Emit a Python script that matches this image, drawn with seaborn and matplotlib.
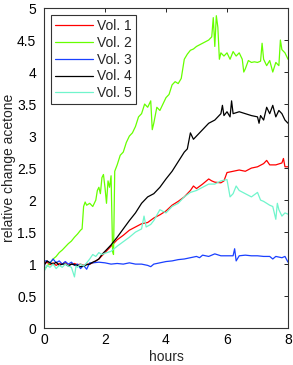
import numpy as np
import pandas as pd
import seaborn as sns
import matplotlib
matplotlib.use("Agg")
import matplotlib.pyplot as plt

# values (hours vs relative change)
vol1_x = [0, 0.1, 0.2, 0.3, 0.4, 0.5, 0.6, 0.7, 0.8, 0.9, 1.0, 1.1, 1.2, 1.3, 1.4, 1.5,
          1.6, 1.8, 2.0, 2.2, 2.4, 2.6, 2.8, 3.0, 3.2, 3.4, 3.6, 3.8, 4.0, 4.2, 4.4,
          4.6, 4.8, 4.9, 5.0, 5.2, 5.4, 5.5, 5.6, 5.8, 5.9, 6.0, 6.2, 6.4, 6.6, 6.8,
          7.0, 7.2, 7.3, 7.4, 7.6, 7.8, 7.85, 7.9, 8.0]
vol1_y = [1.0, 1.03, 0.99, 1.02, 0.98, 1.01, 1.0, 1.03, 0.98, 1.0, 1.01, 0.99, 1.0, 0.98, 1.0, 1.0,
          1.02, 1.08, 1.18, 1.28, 1.38, 1.45, 1.53, 1.58, 1.63, 1.65, 1.72, 1.77, 1.83, 1.92, 1.98,
          2.05, 2.15, 2.22, 2.18, 2.25, 2.33, 2.3, 2.28, 2.27, 2.3, 2.43, 2.45, 2.47, 2.45, 2.5,
          2.52, 2.57, 2.62, 2.55, 2.55, 2.58, 2.65, 2.52, 2.52]

vol2_x = [0, 0.1, 0.2, 0.3, 0.4, 0.5, 0.6, 0.7, 0.8, 0.9, 1.0, 1.1, 1.2, 1.25, 1.3, 1.35,
          1.4, 1.5, 1.6, 1.7, 1.75, 1.8, 1.85, 1.9, 1.95, 2.0, 2.05, 2.1, 2.15, 2.2, 2.25,
          2.28, 2.32, 2.4, 2.5, 2.6, 2.7, 2.8, 2.9, 3.0, 3.1, 3.2, 3.3, 3.4, 3.5, 3.55,
          3.6, 3.7, 3.8, 3.9, 4.0, 4.1, 4.2, 4.3, 4.4, 4.5, 4.6, 4.7, 4.8, 4.9, 5.0,
          5.2, 5.4, 5.5, 5.55, 5.6, 5.65, 5.7, 5.75, 5.8, 5.9, 6.0, 6.1, 6.2, 6.3, 6.4,
          6.5, 6.55, 6.6, 6.7, 6.8, 6.9, 7.0, 7.1, 7.15, 7.2, 7.3, 7.4, 7.5, 7.6, 7.7,
          7.75, 7.8, 7.9, 8.0]
vol2_y = [0.9, 0.97, 1.02, 1.08, 1.12, 1.18, 1.22, 1.27, 1.32, 1.36, 1.42, 1.47, 1.53, 1.55, 1.9, 1.97,
          1.92, 1.95, 1.9, 2.0, 2.15, 2.2, 2.1, 2.35, 2.4, 2.2, 1.95, 2.3, 2.2, 2.38, 1.2,
          1.15, 2.45, 2.55, 2.7, 2.75, 2.9, 3.0, 3.05, 3.15, 3.3, 3.35, 3.5, 3.45, 3.55, 3.1,
          3.2, 3.45, 3.4, 3.5, 3.6, 3.65, 3.8, 3.85, 3.82, 3.9, 4.2, 4.28, 4.34, 4.36, 4.4,
          4.45, 4.5, 4.55, 4.85, 4.4, 4.88, 4.7, 4.2, 4.3, 4.25, 4.3, 4.2, 4.32, 4.25, 4.3,
          4.2, 4.0, 4.05, 4.18, 4.15, 4.16, 4.15, 4.17, 4.45, 4.2, 4.1, 4.18, 4.0, 4.15, 4.1,
          4.5, 4.35, 4.3, 4.2]

vol3_x = [0, 0.03, 0.1, 0.2, 0.3, 0.4, 0.5, 0.6, 0.7, 0.8, 0.9, 1.0, 1.1, 1.2, 1.3, 1.4,
          1.5, 1.6, 1.8, 2.0, 2.2, 2.4, 2.6, 2.8, 3.0, 3.2, 3.4, 3.5, 3.6, 3.8, 4.0,
          4.2, 4.4, 4.6, 4.8, 5.0, 5.1, 5.2, 5.4, 5.6, 5.8, 6.0, 6.2, 6.25, 6.3, 6.4,
          6.6, 6.8, 7.0, 7.2, 7.4, 7.5, 7.6, 7.8, 7.9, 8.0]
vol3_y = [0.8, 1.05, 1.05, 1.02, 1.08, 1.02, 1.05, 1.0, 1.04, 1.0, 1.03, 0.98, 1.0, 0.93, 0.98, 0.92,
          1.02, 1.02, 1.03, 1.02, 1.0, 1.01, 1.0, 1.02, 1.0, 1.0, 0.98, 0.96, 1.0, 1.02, 1.04,
          1.05, 1.07, 1.08, 1.1, 1.12, 1.1, 1.14, 1.12, 1.16, 1.13, 1.13, 1.13, 1.24, 1.05, 1.13,
          1.14, 1.13, 1.13, 1.12, 1.12, 1.08, 1.12, 1.1, 1.12, 1.03]

vol4_x = [0, 0.1, 0.2, 0.3, 0.4, 0.5, 0.6, 0.7, 0.8, 0.9, 1.0, 1.1, 1.2, 1.3, 1.4, 1.5,
          1.6, 1.7, 1.8, 1.9, 2.0, 2.2, 2.4, 2.6, 2.8, 3.0, 3.2, 3.4, 3.6, 3.8, 4.0,
          4.2, 4.4, 4.6, 4.7, 4.8, 4.9, 5.0, 5.2, 5.4, 5.6, 5.8, 5.85, 5.9, 6.0, 6.1,
          6.15, 6.2, 6.4, 6.6, 6.8, 7.0, 7.05, 7.1, 7.2, 7.3, 7.4, 7.5, 7.6, 7.7, 7.8,
          7.9, 8.0]
vol4_y = [0.98, 1.05, 1.02, 1.0, 1.03, 0.98, 1.0, 1.0, 0.97, 1.0, 0.99, 0.98, 0.96, 0.97, 0.99, 1.0,
          1.03, 1.05, 1.08, 1.15, 1.2, 1.3, 1.42, 1.55, 1.68, 1.8, 1.95, 2.05, 2.1, 2.2, 2.33,
          2.45, 2.6, 2.75, 2.8, 3.05, 2.95, 3.0, 3.1, 3.2, 3.25, 3.35, 3.48, 3.32, 3.38, 3.3,
          3.55, 3.35, 3.38, 3.35, 3.32, 3.3, 3.2, 3.32, 3.25, 3.45, 3.35, 3.48, 3.3, 3.4, 3.35,
          3.25, 3.2]

vol5_x = [0, 0.1, 0.2, 0.3, 0.4, 0.5, 0.6, 0.7, 0.8, 0.9, 1.0, 1.05, 1.1, 1.2, 1.3, 1.4,
          1.5, 1.6, 1.7, 1.8, 1.9, 2.0, 2.2, 2.4, 2.6, 2.8, 3.0, 3.2, 3.28, 3.35, 3.5,
          3.6, 3.8, 4.0, 4.2, 4.4, 4.6, 4.8, 5.0, 5.2, 5.4, 5.6, 5.8, 6.0, 6.1, 6.2,
          6.3, 6.4, 6.6, 6.8, 7.0, 7.1, 7.2, 7.3, 7.4, 7.5, 7.6, 7.65, 7.7, 7.8, 7.9, 8.0]
vol5_y = [0.88, 0.98, 0.95, 1.0, 0.93, 0.98, 0.95, 1.0, 0.97, 0.95, 0.8, 0.97, 0.95, 1.0, 0.97, 1.02,
          1.08, 1.15, 1.12, 1.18, 1.15, 1.17, 1.2, 1.28, 1.35, 1.42, 1.5, 1.55, 1.75, 1.58, 1.62,
          1.68, 1.85, 1.8, 1.9, 1.95, 2.05, 2.12, 2.15, 2.2, 2.25, 2.25, 2.3, 2.32, 2.05, 2.1,
          2.22, 2.15, 2.1, 2.05, 2.12, 2.0, 1.98, 1.95, 1.92, 1.9, 1.7, 1.95, 1.85, 1.75, 1.8, 1.78]

labels = ["Vol. 1", "Vol. 2", "Vol. 3", "Vol. 4", "Vol. 5"]
colors = ["#ff0000", "#66ff00", "#1a40ff", "#000000", "#70f5cc"]

sns.set_style("white")
plt.rcParams["font.family"] = ["Liberation Sans", "DejaVu Sans"]

fig = plt.figure(figsize=(2.93, 3.65), dpi=100)
ax = fig.add_axes([0.150, 0.101, 0.833, 0.877])

series = [(vol1_x, vol1_y), (vol2_x, vol2_y), (vol3_x, vol3_y), (vol4_x, vol4_y), (vol5_x, vol5_y)]
for (xs, ys), lab, col in zip(series, labels, colors):
    sns.lineplot(x=xs, y=ys, ax=ax, color=col, lw=0.9, label=lab, sort=False, estimator=None)

ax.set_xlim(0, 8)
ax.set_ylim(0, 5)
ax.set_xticks([0, 2, 4, 6, 8])
ax.set_yticks([0, 0.5, 1, 1.5, 2, 2.5, 3, 3.5, 4, 4.5, 5])
ax.set_yticklabels(["0", "0.5", "1", "1.5", "2", "2.5", "3", "3.5", "4", "4.5", "5"])
ax.tick_params(direction="in", top=True, right=True, length=3, width=0.6,
               labelsize=10, colors="black")
ax.tick_params(axis="y", pad=5.5)
ax.tick_params(axis="x", pad=3.5)
for sp in ax.spines.values():
    sp.set_color("#333333")
    sp.set_linewidth(0.8)

ax.set_xlabel("hours", fontsize=10, labelpad=2)
ax.set_ylabel("relative change acetone", fontsize=10, labelpad=1)

leg = ax.legend(loc="upper left", fontsize=10, frameon=True, fancybox=False,
                handlelength=2.7, borderaxespad=0.5, labelspacing=0.2,
                handletextpad=0.3, borderpad=0.3)
leg.get_frame().set_edgecolor("#333333")
leg.get_frame().set_linewidth(0.8)
leg.get_frame().set_alpha(1)

fig.savefig("out.png", dpi=100)
